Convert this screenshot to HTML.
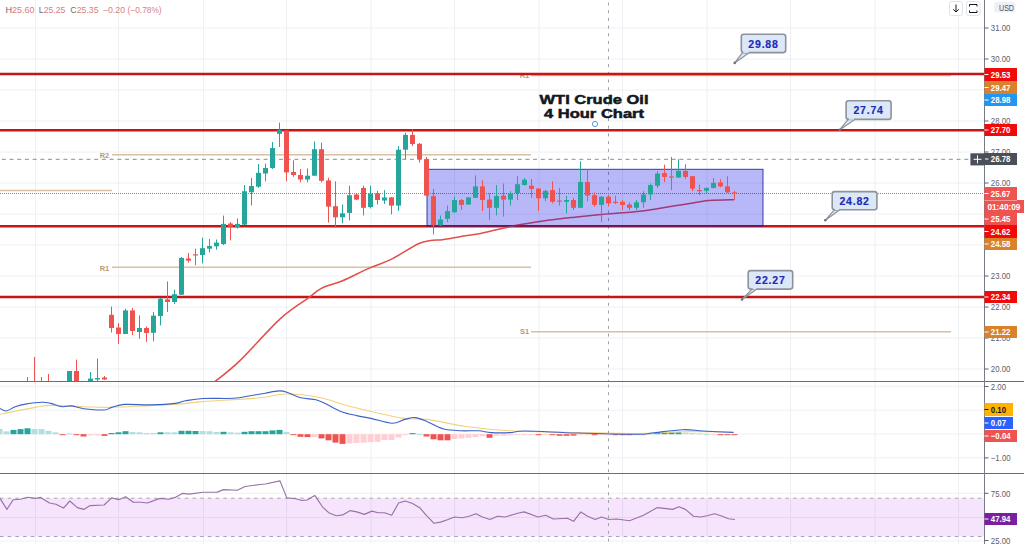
<!DOCTYPE html>
<html><head><meta charset="utf-8"><style>
html,body{margin:0;padding:0;background:#fff;width:1024px;height:544px;overflow:hidden}
svg{display:block;font-family:"Liberation Sans",sans-serif}
</style></head><body>
<svg width="1024" height="544" viewBox="0 0 1024 544">
<rect width="1024" height="544" fill="#ffffff"/>
<line x1="35.5" y1="0" x2="35.5" y2="544" stroke="#eef0f3" stroke-width="1"/>
<line x1="118.5" y1="0" x2="118.5" y2="544" stroke="#eef0f3" stroke-width="1"/>
<line x1="203.5" y1="0" x2="203.5" y2="544" stroke="#eef0f3" stroke-width="1"/>
<line x1="286.5" y1="0" x2="286.5" y2="544" stroke="#eef0f3" stroke-width="1"/>
<line x1="371" y1="0" x2="371" y2="544" stroke="#eef0f3" stroke-width="1"/>
<line x1="454.5" y1="0" x2="454.5" y2="544" stroke="#eef0f3" stroke-width="1"/>
<line x1="539" y1="0" x2="539" y2="544" stroke="#eef0f3" stroke-width="1"/>
<line x1="622.5" y1="0" x2="622.5" y2="544" stroke="#eef0f3" stroke-width="1"/>
<line x1="707" y1="0" x2="707" y2="544" stroke="#eef0f3" stroke-width="1"/>
<line x1="790.5" y1="0" x2="790.5" y2="544" stroke="#eef0f3" stroke-width="1"/>
<line x1="875" y1="0" x2="875" y2="544" stroke="#eef0f3" stroke-width="1"/>
<line x1="958.5" y1="0" x2="958.5" y2="544" stroke="#eef0f3" stroke-width="1"/>
<line x1="0" y1="28" x2="984.5" y2="28" stroke="#eef0f3" stroke-width="1"/>
<line x1="0" y1="59" x2="984.5" y2="59" stroke="#eef0f3" stroke-width="1"/>
<line x1="0" y1="90" x2="984.5" y2="90" stroke="#eef0f3" stroke-width="1"/>
<line x1="0" y1="121" x2="984.5" y2="121" stroke="#eef0f3" stroke-width="1"/>
<line x1="0" y1="152" x2="984.5" y2="152" stroke="#eef0f3" stroke-width="1"/>
<line x1="0" y1="183" x2="984.5" y2="183" stroke="#eef0f3" stroke-width="1"/>
<line x1="0" y1="214" x2="984.5" y2="214" stroke="#eef0f3" stroke-width="1"/>
<line x1="0" y1="245" x2="984.5" y2="245" stroke="#eef0f3" stroke-width="1"/>
<line x1="0" y1="276" x2="984.5" y2="276" stroke="#eef0f3" stroke-width="1"/>
<line x1="0" y1="307" x2="984.5" y2="307" stroke="#eef0f3" stroke-width="1"/>
<line x1="0" y1="338" x2="984.5" y2="338" stroke="#eef0f3" stroke-width="1"/>
<line x1="0" y1="369" x2="984.5" y2="369" stroke="#eef0f3" stroke-width="1"/>
<line x1="0" y1="386.3" x2="984.5" y2="386.3" stroke="#eef0f3" stroke-width="1"/>
<line x1="0" y1="410.2" x2="984.5" y2="410.2" stroke="#eef0f3" stroke-width="1"/>
<line x1="0" y1="434.0" x2="984.5" y2="434.0" stroke="#eef0f3" stroke-width="1"/>
<line x1="0" y1="457.8" x2="984.5" y2="457.8" stroke="#eef0f3" stroke-width="1"/>
<line x1="0" y1="493.3" x2="984.5" y2="493.3" stroke="#eef0f3" stroke-width="1"/>
<line x1="0" y1="517.5" x2="984.5" y2="517.5" stroke="#eef0f3" stroke-width="1"/>
<line x1="0" y1="541" x2="984.5" y2="541" stroke="#eef0f3" stroke-width="1"/>
<defs><clipPath id="main"><rect x="0" y="0" width="985" height="381"/></clipPath><clipPath id="macd"><rect x="0" y="382" width="985" height="91"/></clipPath><clipPath id="rsi"><rect x="0" y="474" width="985" height="70"/></clipPath></defs>
<g clip-path="url(#main)">
<line x1="0" y1="190.5" x2="112" y2="190.5" stroke="#d8c0a2" stroke-width="1.5"/>
<line x1="112" y1="154.7" x2="531" y2="154.7" stroke="#d8c0a2" stroke-width="1.5"/>
<line x1="112" y1="267.3" x2="531" y2="267.3" stroke="#d8c0a2" stroke-width="1.5"/>
<line x1="531" y1="75.5" x2="951" y2="75.5" stroke="#d8c0a2" stroke-width="1.5"/>
<line x1="531" y1="331.8" x2="951" y2="331.8" stroke="#d8c0a2" stroke-width="1.5"/>
<text x="104.5" y="158" font-size="7.5" fill="#b89a72" font-weight="bold" text-anchor="middle">R2</text>
<text x="104.5" y="270.5" font-size="7.5" fill="#b89a72" font-weight="bold" text-anchor="middle">R1</text>
<text x="524.5" y="78" font-size="7.5" fill="#b89a72" font-weight="bold" text-anchor="middle">R1</text>
<text x="524.5" y="334" font-size="7.5" fill="#b89a72" font-weight="bold" text-anchor="middle">S1</text>
<line x1="0" y1="193.5" x2="984.5" y2="193.5" stroke="#a87878" stroke-width="1" stroke-dasharray="1,1"/>
<line x1="0" y1="159.3" x2="984.5" y2="159.3" stroke="#8a8d96" stroke-width="1" stroke-dasharray="4,3.7" stroke-dashoffset="5.9"/>
<line x1="608.5" y1="0" x2="608.5" y2="381" stroke="#9ea2aa" stroke-width="1" stroke-dasharray="3,4.7" stroke-dashoffset="5.2"/>
<line x1="0" y1="74" x2="984.5" y2="74" stroke="#c81414" stroke-width="2.6"/>
<line x1="0" y1="130.3" x2="984.5" y2="130.3" stroke="#c81414" stroke-width="2.6"/>
<line x1="0" y1="226.2" x2="984.5" y2="226.2" stroke="#c81414" stroke-width="2.6"/>
<line x1="0" y1="297" x2="984.5" y2="297" stroke="#c81414" stroke-width="2.6"/>
<path d="M215.2,381.4 C219.2,378.0 228.5,371.6 239.4,361.1 C250.3,350.6 268.8,329.2 280.4,318.6 C292.0,308.0 302.4,302.4 309.2,297.4 C316.0,292.3 315.8,291.1 321.4,288.3 C327.0,285.5 334.5,284.1 342.6,280.7 C350.7,277.3 361.8,271.4 369.9,267.9 C378.0,264.3 383.0,263.4 391.1,259.4 C399.2,255.4 411.8,246.8 418.4,243.7 C425.0,240.6 426.6,241.3 430.6,240.6 C434.7,239.9 437.8,240.3 442.7,239.7 C447.6,239.0 453.7,237.8 460.0,236.7 C466.3,235.6 471.4,235.2 480.6,233.4 C489.8,231.6 504.6,227.7 515.0,225.6 C525.4,223.5 533.1,222.4 543.0,221.0 C552.9,219.6 565.6,218.2 574.4,217.2 C583.2,216.2 585.6,215.9 596.0,215.0 C606.4,214.1 626.5,212.7 637.0,211.6 C647.5,210.5 651.0,209.6 658.8,208.4 C666.6,207.2 675.5,205.7 683.8,204.4 C692.1,203.1 700.5,201.4 708.8,200.6 C717.1,199.8 729.6,199.8 733.8,199.7" fill="none" stroke="#e0504a" stroke-width="1.5"/>
<rect x="427" y="169.3" width="336" height="56.7" fill="rgba(0,0,235,0.28)" stroke="rgba(30,30,150,0.85)" stroke-width="1"/>
<line x1="111.5" y1="306.5" x2="111.5" y2="332.5" stroke="#ef5350" stroke-width="1"/>
<rect x="109.0" y="314.8" width="5" height="13.2" fill="#ef5350"/>
<line x1="118.5" y1="323.0" x2="118.5" y2="344.0" stroke="#ef5350" stroke-width="1"/>
<rect x="116.0" y="327.5" width="5" height="6.5" fill="#ef5350"/>
<line x1="125.5" y1="308.8" x2="125.5" y2="334.0" stroke="#26a69a" stroke-width="1"/>
<rect x="123.0" y="310.4" width="5" height="23.6" fill="#26a69a"/>
<line x1="132.5" y1="308.0" x2="132.5" y2="335.0" stroke="#ef5350" stroke-width="1"/>
<rect x="130.0" y="310.4" width="5" height="20.6" fill="#ef5350"/>
<line x1="139.5" y1="315.4" x2="139.5" y2="338.6" stroke="#26a69a" stroke-width="1"/>
<rect x="137.0" y="328.0" width="5" height="4.0" fill="#26a69a"/>
<line x1="146.5" y1="326.4" x2="146.5" y2="341.9" stroke="#ef5350" stroke-width="1"/>
<rect x="144.0" y="328.0" width="5" height="5.0" fill="#ef5350"/>
<line x1="153.5" y1="312.0" x2="153.5" y2="341.3" stroke="#26a69a" stroke-width="1"/>
<rect x="151.0" y="315.6" width="5" height="17.2" fill="#26a69a"/>
<line x1="160.5" y1="298.0" x2="160.5" y2="325.3" stroke="#26a69a" stroke-width="1"/>
<rect x="158.0" y="298.8" width="5" height="17.2" fill="#26a69a"/>
<line x1="167.5" y1="281.5" x2="167.5" y2="312.0" stroke="#ef5350" stroke-width="1"/>
<rect x="165.0" y="299.4" width="5" height="2.6" fill="#ef5350"/>
<line x1="174.5" y1="289.5" x2="174.5" y2="304.0" stroke="#26a69a" stroke-width="1"/>
<rect x="172.0" y="294.2" width="5" height="7.8" fill="#26a69a"/>
<line x1="181.5" y1="257.0" x2="181.5" y2="295.0" stroke="#26a69a" stroke-width="1"/>
<rect x="179.0" y="257.9" width="5" height="36.8" fill="#26a69a"/>
<line x1="188.5" y1="253.0" x2="188.5" y2="262.5" stroke="#ef5350" stroke-width="1"/>
<rect x="186.0" y="258.5" width="5" height="2.2" fill="#ef5350"/>
<line x1="195.5" y1="248.7" x2="195.5" y2="265.3" stroke="#ef5350" stroke-width="1"/>
<rect x="193.0" y="254.3" width="5" height="1.2" fill="#ef5350"/>
<line x1="202.5" y1="237.7" x2="202.5" y2="263.4" stroke="#26a69a" stroke-width="1"/>
<rect x="200.0" y="248.2" width="5" height="6.8" fill="#26a69a"/>
<line x1="209.5" y1="239.0" x2="209.5" y2="252.4" stroke="#26a69a" stroke-width="1"/>
<rect x="207.0" y="246.0" width="5" height="2.7" fill="#26a69a"/>
<line x1="216.5" y1="239.5" x2="216.5" y2="249.6" stroke="#26a69a" stroke-width="1"/>
<rect x="214.0" y="242.6" width="5" height="3.7" fill="#26a69a"/>
<line x1="223.5" y1="215.6" x2="223.5" y2="245.0" stroke="#26a69a" stroke-width="1"/>
<rect x="221.0" y="223.9" width="5" height="20.2" fill="#26a69a"/>
<line x1="230.5" y1="222.0" x2="230.5" y2="240.4" stroke="#ef5350" stroke-width="1"/>
<rect x="228.0" y="223.5" width="5" height="3.2" fill="#ef5350"/>
<line x1="237.5" y1="218.4" x2="237.5" y2="228.5" stroke="#26a69a" stroke-width="1"/>
<rect x="235.0" y="223.9" width="5" height="3.3" fill="#26a69a"/>
<line x1="244.5" y1="185.2" x2="244.5" y2="225.0" stroke="#26a69a" stroke-width="1"/>
<rect x="242.0" y="191.2" width="5" height="33.5" fill="#26a69a"/>
<line x1="251.5" y1="177.9" x2="251.5" y2="205.5" stroke="#26a69a" stroke-width="1"/>
<rect x="249.0" y="186.0" width="5" height="6.3" fill="#26a69a"/>
<line x1="258.5" y1="164.0" x2="258.5" y2="187.8" stroke="#26a69a" stroke-width="1"/>
<rect x="256.0" y="172.8" width="5" height="13.9" fill="#26a69a"/>
<line x1="265.5" y1="163.6" x2="265.5" y2="181.2" stroke="#26a69a" stroke-width="1"/>
<rect x="263.0" y="168.0" width="5" height="5.5" fill="#26a69a"/>
<line x1="272.5" y1="142.0" x2="272.5" y2="169.0" stroke="#26a69a" stroke-width="1"/>
<rect x="270.0" y="148.1" width="5" height="19.9" fill="#26a69a"/>
<line x1="279.5" y1="122.7" x2="279.5" y2="147.0" stroke="#26a69a" stroke-width="1"/>
<rect x="277.0" y="130.0" width="5" height="3.8" fill="#26a69a"/>
<line x1="286.5" y1="130.0" x2="286.5" y2="181.2" stroke="#ef5350" stroke-width="1"/>
<rect x="284.0" y="130.5" width="5" height="41.9" fill="#ef5350"/>
<line x1="293.5" y1="160.3" x2="293.5" y2="176.8" stroke="#ef5350" stroke-width="1"/>
<rect x="291.0" y="172.0" width="5" height="3.0" fill="#ef5350"/>
<line x1="300.5" y1="169.0" x2="300.5" y2="182.3" stroke="#ef5350" stroke-width="1"/>
<rect x="298.0" y="175.0" width="5" height="4.5" fill="#ef5350"/>
<line x1="307.5" y1="168.4" x2="307.5" y2="182.3" stroke="#26a69a" stroke-width="1"/>
<rect x="305.0" y="175.7" width="5" height="3.8" fill="#26a69a"/>
<line x1="314.5" y1="141.5" x2="314.5" y2="176.0" stroke="#26a69a" stroke-width="1"/>
<rect x="312.0" y="149.2" width="5" height="26.5" fill="#26a69a"/>
<line x1="321.5" y1="142.6" x2="321.5" y2="182.3" stroke="#ef5350" stroke-width="1"/>
<rect x="319.0" y="149.2" width="5" height="31.6" fill="#ef5350"/>
<line x1="328.5" y1="177.7" x2="328.5" y2="222.5" stroke="#ef5350" stroke-width="1"/>
<rect x="326.0" y="180.4" width="5" height="26.2" fill="#ef5350"/>
<line x1="335.5" y1="181.3" x2="335.5" y2="227.6" stroke="#ef5350" stroke-width="1"/>
<rect x="333.0" y="206.2" width="5" height="11.1" fill="#ef5350"/>
<line x1="342.5" y1="204.5" x2="342.5" y2="223.2" stroke="#26a69a" stroke-width="1"/>
<rect x="340.0" y="213.3" width="5" height="4.0" fill="#26a69a"/>
<line x1="349.5" y1="185.7" x2="349.5" y2="220.4" stroke="#26a69a" stroke-width="1"/>
<rect x="347.0" y="195.2" width="5" height="17.7" fill="#26a69a"/>
<line x1="356.5" y1="193.0" x2="356.5" y2="200.0" stroke="#ef5350" stroke-width="1"/>
<rect x="354.0" y="194.5" width="5" height="5.1" fill="#ef5350"/>
<line x1="363.5" y1="185.7" x2="363.5" y2="215.5" stroke="#ef5350" stroke-width="1"/>
<rect x="361.0" y="187.9" width="5" height="19.9" fill="#ef5350"/>
<line x1="370.5" y1="185.7" x2="370.5" y2="208.4" stroke="#26a69a" stroke-width="1"/>
<rect x="368.0" y="193.4" width="5" height="13.7" fill="#26a69a"/>
<line x1="377.5" y1="190.8" x2="377.5" y2="204.5" stroke="#ef5350" stroke-width="1"/>
<rect x="375.0" y="193.4" width="5" height="6.6" fill="#ef5350"/>
<line x1="384.5" y1="190.1" x2="384.5" y2="204.0" stroke="#26a69a" stroke-width="1"/>
<rect x="382.0" y="197.4" width="5" height="3.1" fill="#26a69a"/>
<line x1="391.5" y1="197.0" x2="391.5" y2="214.4" stroke="#ef5350" stroke-width="1"/>
<rect x="389.0" y="197.4" width="5" height="8.2" fill="#ef5350"/>
<line x1="398.5" y1="146.0" x2="398.5" y2="211.0" stroke="#26a69a" stroke-width="1"/>
<rect x="396.0" y="149.7" width="5" height="55.9" fill="#26a69a"/>
<line x1="405.5" y1="132.7" x2="405.5" y2="159.2" stroke="#26a69a" stroke-width="1"/>
<rect x="403.0" y="134.9" width="5" height="14.8" fill="#26a69a"/>
<line x1="412.5" y1="129.0" x2="412.5" y2="146.0" stroke="#ef5350" stroke-width="1"/>
<rect x="410.0" y="134.9" width="5" height="9.1" fill="#ef5350"/>
<line x1="419.5" y1="143.0" x2="419.5" y2="162.5" stroke="#ef5350" stroke-width="1"/>
<rect x="417.0" y="143.8" width="5" height="15.4" fill="#ef5350"/>
<line x1="426.5" y1="157.0" x2="426.5" y2="196.0" stroke="#ef5350" stroke-width="1"/>
<rect x="424.0" y="159.2" width="5" height="36.4" fill="#ef5350"/>
<line x1="433.5" y1="189.0" x2="433.5" y2="234.3" stroke="#ef5350" stroke-width="1"/>
<rect x="431.0" y="196.1" width="5" height="29.3" fill="#ef5350"/>
<line x1="440.5" y1="215.5" x2="440.5" y2="226.0" stroke="#26a69a" stroke-width="1"/>
<rect x="438.0" y="219.5" width="5" height="5.9" fill="#26a69a"/>
<line x1="447.5" y1="205.6" x2="447.5" y2="222.0" stroke="#26a69a" stroke-width="1"/>
<rect x="445.0" y="211.1" width="5" height="7.7" fill="#26a69a"/>
<line x1="454.5" y1="196.7" x2="454.5" y2="213.0" stroke="#26a69a" stroke-width="1"/>
<rect x="452.0" y="200.0" width="5" height="12.2" fill="#26a69a"/>
<line x1="461.5" y1="199.0" x2="461.5" y2="210.0" stroke="#ef5350" stroke-width="1"/>
<rect x="459.0" y="200.0" width="5" height="4.9" fill="#ef5350"/>
<line x1="468.5" y1="197.0" x2="468.5" y2="205.0" stroke="#26a69a" stroke-width="1"/>
<rect x="466.0" y="197.4" width="5" height="7.1" fill="#26a69a"/>
<line x1="475.5" y1="175.3" x2="475.5" y2="198.0" stroke="#26a69a" stroke-width="1"/>
<rect x="473.0" y="186.4" width="5" height="11.4" fill="#26a69a"/>
<line x1="482.5" y1="180.2" x2="482.5" y2="211.1" stroke="#ef5350" stroke-width="1"/>
<rect x="480.0" y="186.4" width="5" height="13.6" fill="#ef5350"/>
<line x1="489.5" y1="193.4" x2="489.5" y2="220.0" stroke="#ef5350" stroke-width="1"/>
<rect x="487.0" y="199.6" width="5" height="8.2" fill="#ef5350"/>
<line x1="496.5" y1="185.0" x2="496.5" y2="215.5" stroke="#26a69a" stroke-width="1"/>
<rect x="494.0" y="196.1" width="5" height="11.7" fill="#26a69a"/>
<line x1="503.5" y1="183.5" x2="503.5" y2="216.6" stroke="#ef5350" stroke-width="1"/>
<rect x="501.0" y="195.6" width="5" height="4.0" fill="#ef5350"/>
<line x1="510.5" y1="191.2" x2="510.5" y2="205.6" stroke="#26a69a" stroke-width="1"/>
<rect x="508.0" y="193.4" width="5" height="6.2" fill="#26a69a"/>
<line x1="517.5" y1="176.2" x2="517.5" y2="200.0" stroke="#26a69a" stroke-width="1"/>
<rect x="515.0" y="184.2" width="5" height="8.8" fill="#26a69a"/>
<line x1="524.5" y1="178.0" x2="524.5" y2="185.5" stroke="#26a69a" stroke-width="1"/>
<rect x="522.0" y="179.7" width="5" height="5.3" fill="#26a69a"/>
<line x1="531.5" y1="179.0" x2="531.5" y2="197.8" stroke="#ef5350" stroke-width="1"/>
<rect x="529.0" y="185.7" width="5" height="3.3" fill="#ef5350"/>
<line x1="538.5" y1="188.0" x2="538.5" y2="211.0" stroke="#ef5350" stroke-width="1"/>
<rect x="536.0" y="188.6" width="5" height="9.7" fill="#ef5350"/>
<line x1="545.5" y1="190.0" x2="545.5" y2="201.2" stroke="#26a69a" stroke-width="1"/>
<rect x="543.0" y="190.8" width="5" height="7.5" fill="#26a69a"/>
<line x1="552.5" y1="181.3" x2="552.5" y2="203.4" stroke="#ef5350" stroke-width="1"/>
<rect x="550.0" y="190.1" width="5" height="11.7" fill="#ef5350"/>
<line x1="559.5" y1="187.9" x2="559.5" y2="205.6" stroke="#ef5350" stroke-width="1"/>
<rect x="557.0" y="200.5" width="5" height="1.2" fill="#ef5350"/>
<line x1="566.5" y1="196.0" x2="566.5" y2="213.3" stroke="#26a69a" stroke-width="1"/>
<rect x="564.0" y="200.0" width="5" height="1.8" fill="#26a69a"/>
<line x1="573.5" y1="197.8" x2="573.5" y2="210.0" stroke="#ef5350" stroke-width="1"/>
<rect x="571.0" y="200.0" width="5" height="7.8" fill="#ef5350"/>
<line x1="580.5" y1="161.4" x2="580.5" y2="208.0" stroke="#26a69a" stroke-width="1"/>
<rect x="578.0" y="182.0" width="5" height="25.8" fill="#26a69a"/>
<line x1="587.5" y1="169.2" x2="587.5" y2="201.2" stroke="#ef5350" stroke-width="1"/>
<rect x="585.0" y="182.0" width="5" height="13.6" fill="#ef5350"/>
<line x1="594.5" y1="192.3" x2="594.5" y2="206.7" stroke="#ef5350" stroke-width="1"/>
<rect x="592.0" y="195.2" width="5" height="9.7" fill="#ef5350"/>
<line x1="601.5" y1="196.0" x2="601.5" y2="222.1" stroke="#26a69a" stroke-width="1"/>
<rect x="599.0" y="196.7" width="5" height="8.2" fill="#26a69a"/>
<line x1="608.5" y1="196.0" x2="608.5" y2="206.7" stroke="#ef5350" stroke-width="1"/>
<rect x="606.0" y="196.7" width="5" height="6.7" fill="#ef5350"/>
<line x1="615.5" y1="195.6" x2="615.5" y2="204.0" stroke="#ef5350" stroke-width="1"/>
<rect x="613.0" y="201.8" width="5" height="1.2" fill="#ef5350"/>
<line x1="622.5" y1="200.0" x2="622.5" y2="210.0" stroke="#ef5350" stroke-width="1"/>
<rect x="620.0" y="201.8" width="5" height="3.1" fill="#ef5350"/>
<line x1="629.5" y1="202.3" x2="629.5" y2="210.0" stroke="#ef5350" stroke-width="1"/>
<rect x="627.0" y="204.5" width="5" height="3.3" fill="#ef5350"/>
<line x1="636.5" y1="200.0" x2="636.5" y2="210.0" stroke="#26a69a" stroke-width="1"/>
<rect x="634.0" y="202.3" width="5" height="5.5" fill="#26a69a"/>
<line x1="643.5" y1="191.2" x2="643.5" y2="207.8" stroke="#26a69a" stroke-width="1"/>
<rect x="641.0" y="194.5" width="5" height="7.8" fill="#26a69a"/>
<line x1="650.5" y1="183.5" x2="650.5" y2="200.0" stroke="#26a69a" stroke-width="1"/>
<rect x="648.0" y="185.0" width="5" height="9.5" fill="#26a69a"/>
<line x1="657.5" y1="171.4" x2="657.5" y2="187.9" stroke="#26a69a" stroke-width="1"/>
<rect x="655.0" y="173.6" width="5" height="12.1" fill="#26a69a"/>
<line x1="664.5" y1="164.7" x2="664.5" y2="182.0" stroke="#ef5350" stroke-width="1"/>
<rect x="662.0" y="173.1" width="5" height="3.8" fill="#ef5350"/>
<line x1="671.5" y1="157.0" x2="671.5" y2="190.1" stroke="#ef5350" stroke-width="1"/>
<rect x="669.0" y="176.4" width="5" height="1.2" fill="#ef5350"/>
<line x1="678.5" y1="159.2" x2="678.5" y2="178.0" stroke="#26a69a" stroke-width="1"/>
<rect x="676.0" y="170.9" width="5" height="6.6" fill="#26a69a"/>
<line x1="685.5" y1="164.3" x2="685.5" y2="179.0" stroke="#ef5350" stroke-width="1"/>
<rect x="683.0" y="170.9" width="5" height="6.0" fill="#ef5350"/>
<line x1="692.5" y1="176.0" x2="692.5" y2="191.2" stroke="#ef5350" stroke-width="1"/>
<rect x="690.0" y="176.2" width="5" height="12.4" fill="#ef5350"/>
<line x1="699.5" y1="184.6" x2="699.5" y2="195.2" stroke="#ef5350" stroke-width="1"/>
<rect x="697.0" y="190.0" width="5" height="1.2" fill="#ef5350"/>
<line x1="706.5" y1="187.5" x2="706.5" y2="193.4" stroke="#26a69a" stroke-width="1"/>
<rect x="704.0" y="187.9" width="5" height="2.9" fill="#26a69a"/>
<line x1="713.5" y1="178.0" x2="713.5" y2="188.5" stroke="#26a69a" stroke-width="1"/>
<rect x="711.0" y="182.8" width="5" height="5.1" fill="#26a69a"/>
<line x1="720.5" y1="179.1" x2="720.5" y2="187.3" stroke="#ef5350" stroke-width="1"/>
<rect x="718.0" y="182.4" width="5" height="4.0" fill="#ef5350"/>
<line x1="727.5" y1="176.2" x2="727.5" y2="193.0" stroke="#ef5350" stroke-width="1"/>
<rect x="725.0" y="186.4" width="5" height="5.9" fill="#ef5350"/>
<line x1="734.5" y1="190.8" x2="734.5" y2="200.0" stroke="#ef5350" stroke-width="1"/>
<rect x="732.0" y="192.3" width="5" height="1.2" fill="#ef5350"/>
<line x1="27.5" y1="377.0" x2="27.5" y2="381.0" stroke="#ef5350" stroke-width="1"/>
<rect x="25.0" y="381.0" width="5" height="1.2" fill="#ef5350"/>
<line x1="34.5" y1="357.0" x2="34.5" y2="381.0" stroke="#ef5350" stroke-width="1"/>
<rect x="32.0" y="381.0" width="5" height="1.2" fill="#ef5350"/>
<line x1="41.5" y1="377.0" x2="41.5" y2="381.0" stroke="#26a69a" stroke-width="1"/>
<rect x="39.0" y="381.0" width="5" height="1.2" fill="#26a69a"/>
<line x1="48.5" y1="374.0" x2="48.5" y2="381.0" stroke="#ef5350" stroke-width="1"/>
<rect x="46.0" y="381.0" width="5" height="1.2" fill="#ef5350"/>
<line x1="69.5" y1="371.0" x2="69.5" y2="381.0" stroke="#26a69a" stroke-width="1"/>
<rect x="67.0" y="371.0" width="5" height="10.0" fill="#26a69a"/>
<line x1="76.5" y1="359.6" x2="76.5" y2="381.0" stroke="#ef5350" stroke-width="1"/>
<rect x="74.0" y="371.0" width="5" height="10.0" fill="#ef5350"/>
<line x1="90.5" y1="372.0" x2="90.5" y2="381.0" stroke="#26a69a" stroke-width="1"/>
<rect x="88.0" y="378.6" width="5" height="2.4" fill="#26a69a"/>
<line x1="97.5" y1="358.5" x2="97.5" y2="381.0" stroke="#26a69a" stroke-width="1"/>
<rect x="95.0" y="378.0" width="5" height="1.5" fill="#26a69a"/>
<line x1="104.5" y1="376.0" x2="104.5" y2="380.0" stroke="#ef5350" stroke-width="1"/>
<rect x="102.0" y="377.5" width="5" height="2.0" fill="#ef5350"/>
</g>
<path d="M742.5,52.6 L734.7,62.9 L749.4,52.6 Z" fill="#dce8f8" stroke="#8c939c" stroke-width="1.2" stroke-linejoin="round"/>
<rect x="741.3" y="34.2" width="44.40000000000009" height="18.4" rx="2.5" fill="#dce8f8" stroke="#8c939c" stroke-width="1.6"/>
<line x1="743.3" y1="52.1" x2="748.6" y2="52.1" stroke="#dce8f8" stroke-width="1.6"/>
<circle cx="734.7" cy="62.9" r="1.3" fill="#6d737b"/>
<text x="763.5" y="47.6" font-size="10.5" font-weight="bold" fill="#1e2cb8" stroke="#1e2cb8" stroke-width="0.2" text-anchor="middle" letter-spacing="0.8">29.88</text>
<path d="M848.2,119.4 L839.8,129.7 L854.8,119.4 Z" fill="#dce8f8" stroke="#8c939c" stroke-width="1.2" stroke-linejoin="round"/>
<rect x="846.1" y="100.8" width="45.0" height="18.60000000000001" rx="2.5" fill="#dce8f8" stroke="#8c939c" stroke-width="1.6"/>
<line x1="849.0" y1="118.9" x2="854.0" y2="118.9" stroke="#dce8f8" stroke-width="1.6"/>
<circle cx="839.8" cy="129.7" r="1.3" fill="#6d737b"/>
<text x="868.6" y="114.4" font-size="10.5" font-weight="bold" fill="#1e2cb8" stroke="#1e2cb8" stroke-width="0.2" text-anchor="middle" letter-spacing="0.8">27.74</text>
<path d="M834.4,209.8 L825.3,220.2 L839.8,209.8 Z" fill="#dce8f8" stroke="#8c939c" stroke-width="1.2" stroke-linejoin="round"/>
<rect x="832.2" y="191.6" width="44.69999999999993" height="18.200000000000017" rx="2.5" fill="#dce8f8" stroke="#8c939c" stroke-width="1.6"/>
<line x1="835.1999999999999" y1="209.3" x2="839.0" y2="209.3" stroke="#dce8f8" stroke-width="1.6"/>
<circle cx="825.3" cy="220.2" r="1.3" fill="#6d737b"/>
<text x="854.55" y="204.8" font-size="10.5" font-weight="bold" fill="#1e2cb8" stroke="#1e2cb8" stroke-width="0.2" text-anchor="middle" letter-spacing="0.8">24.82</text>
<path d="M752,289.1 L742,299.5 L756.9,289.1 Z" fill="#dce8f8" stroke="#8c939c" stroke-width="1.2" stroke-linejoin="round"/>
<rect x="748.2" y="270.6" width="44.5" height="18.5" rx="2.5" fill="#dce8f8" stroke="#8c939c" stroke-width="1.6"/>
<line x1="752.8" y1="288.6" x2="756.1" y2="288.6" stroke="#dce8f8" stroke-width="1.6"/>
<circle cx="742" cy="299.5" r="1.3" fill="#6d737b"/>
<text x="770.45" y="284.1" font-size="10.5" font-weight="bold" fill="#1e2cb8" stroke="#1e2cb8" stroke-width="0.2" text-anchor="middle" letter-spacing="0.8">22.27</text>
<text x="539.5" y="103.8" font-size="12.8" font-weight="bold" fill="#131722" stroke="#131722" stroke-width="0.5" textLength="109" lengthAdjust="spacingAndGlyphs">WTI Crude Oil</text>
<text x="544" y="118.2" font-size="12.8" font-weight="bold" fill="#131722" stroke="#131722" stroke-width="0.5" textLength="100" lengthAdjust="spacingAndGlyphs">4 Hour Chart</text>
<circle cx="595" cy="124" r="2.6" fill="none" stroke="#5b9bd5" stroke-width="1"/>
<g clip-path="url(#macd)">
<rect x="-3.5" y="428.9" width="6" height="5.3" fill="#b2dfdb"/>
<rect x="3.5" y="431.4" width="6" height="2.8" fill="#b2dfdb"/>
<rect x="10.5" y="429.9" width="6" height="4.3" fill="#26a69a"/>
<rect x="17.5" y="429.1" width="6" height="5.1" fill="#26a69a"/>
<rect x="24.5" y="428.3" width="6" height="5.9" fill="#26a69a"/>
<rect x="31.5" y="429.1" width="6" height="5.1" fill="#b2dfdb"/>
<rect x="38.5" y="429.1" width="6" height="5.1" fill="#b2dfdb"/>
<rect x="45.5" y="430.8" width="6" height="3.4" fill="#b2dfdb"/>
<rect x="52.5" y="432.3" width="6" height="1.9" fill="#b2dfdb"/>
<rect x="59.5" y="434.2" width="6" height="1.0" fill="#ef5350"/>
<rect x="66.5" y="433.5" width="6" height="1.0" fill="#b2dfdb"/>
<rect x="73.5" y="434.2" width="6" height="1.0" fill="#ef5350"/>
<rect x="80.5" y="434.2" width="6" height="2.3" fill="#ef5350"/>
<rect x="87.5" y="434.2" width="6" height="1.3" fill="#ffcdd2"/>
<rect x="94.5" y="434.2" width="6" height="1.3" fill="#ffcdd2"/>
<rect x="101.5" y="434.2" width="6" height="1.7" fill="#ef5350"/>
<rect x="108.5" y="433.0" width="6" height="1.2" fill="#26a69a"/>
<rect x="115.5" y="432.3" width="6" height="1.9" fill="#26a69a"/>
<rect x="122.5" y="431.2" width="6" height="3.0" fill="#26a69a"/>
<rect x="129.5" y="432.0" width="6" height="2.2" fill="#b2dfdb"/>
<rect x="136.5" y="432.3" width="6" height="1.9" fill="#b2dfdb"/>
<rect x="143.5" y="433.0" width="6" height="1.2" fill="#b2dfdb"/>
<rect x="150.5" y="433.0" width="6" height="1.2" fill="#b2dfdb"/>
<rect x="157.5" y="432.3" width="6" height="1.9" fill="#26a69a"/>
<rect x="164.5" y="432.3" width="6" height="1.9" fill="#b2dfdb"/>
<rect x="171.5" y="432.3" width="6" height="1.9" fill="#b2dfdb"/>
<rect x="178.5" y="430.8" width="6" height="3.4" fill="#26a69a"/>
<rect x="185.5" y="430.8" width="6" height="3.4" fill="#26a69a"/>
<rect x="192.5" y="431.0" width="6" height="3.2" fill="#26a69a"/>
<rect x="199.5" y="431.0" width="6" height="3.2" fill="#b2dfdb"/>
<rect x="206.5" y="431.2" width="6" height="3.0" fill="#b2dfdb"/>
<rect x="213.5" y="432.0" width="6" height="2.2" fill="#b2dfdb"/>
<rect x="220.5" y="431.8" width="6" height="2.4" fill="#26a69a"/>
<rect x="227.5" y="432.3" width="6" height="1.9" fill="#b2dfdb"/>
<rect x="234.5" y="432.7" width="6" height="1.5" fill="#b2dfdb"/>
<rect x="241.5" y="431.8" width="6" height="2.4" fill="#26a69a"/>
<rect x="248.5" y="431.2" width="6" height="3.0" fill="#26a69a"/>
<rect x="255.5" y="431.2" width="6" height="3.0" fill="#26a69a"/>
<rect x="262.5" y="431.2" width="6" height="3.0" fill="#26a69a"/>
<rect x="269.5" y="430.4" width="6" height="3.8" fill="#26a69a"/>
<rect x="276.5" y="429.9" width="6" height="4.3" fill="#26a69a"/>
<rect x="283.5" y="432.0" width="6" height="2.2" fill="#b2dfdb"/>
<rect x="290.5" y="434.2" width="6" height="1.0" fill="#ef5350"/>
<rect x="297.5" y="434.2" width="6" height="2.6" fill="#ef5350"/>
<rect x="304.5" y="434.2" width="6" height="2.9" fill="#ef5350"/>
<rect x="311.5" y="434.2" width="6" height="2.9" fill="#ffcdd2"/>
<rect x="318.5" y="434.2" width="6" height="4.2" fill="#ef5350"/>
<rect x="325.5" y="434.2" width="6" height="6.1" fill="#ef5350"/>
<rect x="332.5" y="434.2" width="6" height="8.4" fill="#ef5350"/>
<rect x="339.5" y="434.2" width="6" height="9.7" fill="#ef5350"/>
<rect x="346.5" y="434.2" width="6" height="9.3" fill="#ffcdd2"/>
<rect x="353.5" y="434.2" width="6" height="8.8" fill="#ffcdd2"/>
<rect x="360.5" y="434.2" width="6" height="8.4" fill="#ffcdd2"/>
<rect x="367.5" y="434.2" width="6" height="8.0" fill="#ffcdd2"/>
<rect x="374.5" y="434.2" width="6" height="7.6" fill="#ffcdd2"/>
<rect x="381.5" y="434.2" width="6" height="5.8" fill="#ffcdd2"/>
<rect x="388.5" y="434.2" width="6" height="5.8" fill="#ffcdd2"/>
<rect x="395.5" y="434.2" width="6" height="3.3" fill="#ffcdd2"/>
<rect x="402.5" y="434.2" width="6" height="1.0" fill="#ffcdd2"/>
<rect x="409.5" y="433.1" width="6" height="1.1" fill="#26a69a"/>
<rect x="416.5" y="433.8" width="6" height="1.0" fill="#b2dfdb"/>
<rect x="423.5" y="434.2" width="6" height="2.3" fill="#ef5350"/>
<rect x="430.5" y="434.2" width="6" height="5.1" fill="#ef5350"/>
<rect x="437.5" y="434.2" width="6" height="6.1" fill="#ef5350"/>
<rect x="444.5" y="434.2" width="6" height="6.1" fill="#ef5350"/>
<rect x="451.5" y="434.2" width="6" height="4.8" fill="#ffcdd2"/>
<rect x="458.5" y="434.2" width="6" height="4.2" fill="#ffcdd2"/>
<rect x="465.5" y="434.2" width="6" height="3.6" fill="#ffcdd2"/>
<rect x="472.5" y="434.2" width="6" height="2.9" fill="#ffcdd2"/>
<rect x="479.5" y="434.2" width="6" height="2.0" fill="#ffcdd2"/>
<rect x="486.5" y="434.2" width="6" height="3.6" fill="#ef5350"/>
<rect x="493.5" y="434.2" width="6" height="1.6" fill="#ffcdd2"/>
<rect x="500.5" y="434.2" width="6" height="1.6" fill="#ffcdd2"/>
<rect x="507.5" y="434.2" width="6" height="1.3" fill="#ffcdd2"/>
<rect x="514.5" y="434.2" width="6" height="1.0" fill="#ffcdd2"/>
<rect x="521.5" y="434.2" width="6" height="1.0" fill="#ffcdd2"/>
<rect x="528.5" y="434.2" width="6" height="1.0" fill="#ffcdd2"/>
<rect x="535.5" y="434.2" width="6" height="1.0" fill="#ef5350"/>
<rect x="542.5" y="434.2" width="6" height="1.0" fill="#ffcdd2"/>
<rect x="549.5" y="434.2" width="6" height="1.0" fill="#ef5350"/>
<rect x="556.5" y="434.2" width="6" height="1.6" fill="#ef5350"/>
<rect x="563.5" y="434.2" width="6" height="1.6" fill="#ef5350"/>
<rect x="570.5" y="434.2" width="6" height="1.4" fill="#ef5350"/>
<rect x="577.5" y="434.2" width="6" height="1.0" fill="#ffcdd2"/>
<rect x="584.5" y="434.2" width="6" height="1.0" fill="#ffcdd2"/>
<rect x="591.5" y="434.2" width="6" height="1.0" fill="#ef5350"/>
<rect x="598.5" y="434.2" width="6" height="1.0" fill="#ffcdd2"/>
<rect x="605.5" y="434.2" width="6" height="1.0" fill="#ffcdd2"/>
<rect x="612.5" y="434.2" width="6" height="1.0" fill="#ef5350"/>
<rect x="619.5" y="434.2" width="6" height="1.0" fill="#ef5350"/>
<rect x="626.5" y="434.2" width="6" height="1.0" fill="#ef5350"/>
<rect x="633.5" y="434.2" width="6" height="1.0" fill="#ffcdd2"/>
<rect x="640.5" y="434.2" width="6" height="1.0" fill="#ffcdd2"/>
<rect x="647.5" y="433.6" width="6" height="1.0" fill="#b2dfdb"/>
<rect x="654.5" y="433.0" width="6" height="1.2" fill="#26a69a"/>
<rect x="661.5" y="432.5" width="6" height="1.7" fill="#26a69a"/>
<rect x="668.5" y="432.3" width="6" height="1.9" fill="#26a69a"/>
<rect x="675.5" y="432.3" width="6" height="1.9" fill="#26a69a"/>
<rect x="682.5" y="432.6" width="6" height="1.6" fill="#b2dfdb"/>
<rect x="689.5" y="433.0" width="6" height="1.2" fill="#b2dfdb"/>
<rect x="696.5" y="433.4" width="6" height="1.0" fill="#b2dfdb"/>
<rect x="703.5" y="433.8" width="6" height="1.0" fill="#b2dfdb"/>
<rect x="710.5" y="434.2" width="6" height="1.0" fill="#ffcdd2"/>
<rect x="717.5" y="434.2" width="6" height="1.0" fill="#ef5350"/>
<rect x="724.5" y="434.2" width="6" height="1.0" fill="#ef5350"/>
<rect x="731.5" y="434.2" width="6" height="1.0" fill="#ef5350"/>
<path d="M0.0,414.3 C5.9,413.1 27.1,408.9 35.6,407.4 C44.1,405.9 42.8,405.5 50.8,405.4 C58.8,405.3 74.5,406.4 83.8,406.7 C93.1,407.0 99.5,407.4 106.7,407.4 C113.9,407.4 115.2,407.2 127.0,406.7 C138.8,406.1 165.1,405.0 177.8,404.1 C190.5,403.2 189.4,402.7 203.1,401.6 C216.8,400.6 246.2,399.1 260.0,397.8 C273.8,396.5 275.8,394.1 285.6,394.0 C295.4,393.9 307.6,395.2 318.6,397.3 C329.6,399.4 337.6,403.2 351.6,406.7 C365.6,410.2 389.7,416.0 402.4,418.1 C415.1,420.2 417.2,418.0 427.8,419.4 C438.4,420.8 452.1,424.6 465.8,426.5 C479.5,428.4 491.6,429.8 510.0,430.8 C528.4,431.8 554.8,432.1 576.0,432.5 C597.2,432.9 619.2,433.6 637.0,433.5 C654.8,433.4 666.7,432.0 682.8,431.7 C698.9,431.4 725.1,431.7 733.6,431.7" fill="none" stroke="#f2d27a" stroke-width="1.1"/>
<path d="M0.0,408.4 C1.1,408.8 3.8,411.3 6.3,411.0 C8.8,410.7 12.0,407.8 15.2,406.7 C18.4,405.6 20.9,404.8 25.4,404.1 C29.8,403.4 37.7,402.4 41.9,402.3 C46.1,402.2 47.4,402.7 50.8,403.4 C54.2,404.1 58.8,406.3 62.2,406.7 C65.6,407.1 67.5,405.6 71.1,405.9 C74.7,406.2 78.3,408.0 83.8,408.7 C89.3,409.4 99.4,410.2 104.1,410.0 C108.8,409.8 108.3,408.3 111.7,407.4 C115.1,406.5 117.6,404.8 124.4,404.4 C131.2,404.0 143.9,405.1 152.4,404.9 C160.9,404.7 169.7,404.1 175.2,403.4 C180.7,402.7 180.8,401.6 185.4,400.8 C190.1,400.0 195.1,398.9 203.1,398.5 C211.1,398.1 226.0,398.7 233.6,398.3 C241.2,397.9 243.6,396.9 248.9,396.0 C254.2,395.1 260.1,394.1 265.2,393.2 C270.2,392.3 275.4,391.0 279.2,390.9 C283.0,390.8 284.5,391.5 288.1,392.7 C291.7,393.9 296.2,396.6 300.8,397.8 C305.4,399.0 311.8,398.8 316.0,399.8 C320.2,400.9 322.0,402.1 326.2,404.1 C330.4,406.1 336.3,409.8 341.4,411.7 C346.5,413.6 351.6,414.5 356.7,415.6 C361.8,416.8 366.0,417.3 371.9,418.6 C377.8,419.9 386.7,423.1 392.2,423.2 C397.7,423.3 401.1,420.3 404.9,419.4 C408.7,418.5 411.3,417.2 415.1,417.6 C418.9,418.0 423.2,420.0 427.8,421.9 C432.4,423.8 437.5,427.3 443.0,428.8 C448.5,430.3 454.9,430.5 460.8,430.8 C466.7,431.1 473.4,430.5 478.5,430.8 C483.6,431.1 485.9,432.3 491.2,432.6 C496.4,432.9 504.3,432.9 510.0,432.6 C515.7,432.3 514.4,430.9 525.4,431.0 C536.4,431.1 557.6,432.4 576.2,433.0 C594.8,433.6 624.4,434.3 637.1,434.3 C649.8,434.3 644.8,433.8 652.4,433.0 C660.0,432.2 674.3,430.0 682.8,429.7 C691.2,429.4 694.6,430.5 703.1,431.0 C711.6,431.5 728.5,432.2 733.6,432.5" fill="none" stroke="#3b62c8" stroke-width="1.1"/>
</g>
<rect x="0" y="498.2" width="984" height="38.3" fill="rgba(170,30,230,0.12)"/>
<line x1="0" y1="498.2" x2="984.5" y2="498.2" stroke="#aaa2b2" stroke-width="1" stroke-dasharray="3.5,4.2"/>
<line x1="0" y1="536.5" x2="984.5" y2="536.5" stroke="#aaa2b2" stroke-width="1" stroke-dasharray="3.5,4.2"/>
<polyline points="0.0,498.4 6.9,509.4 13.2,499.7 20.3,499.2 27.9,497.2 35.6,498.4 40.6,497.4 49.5,503.0 55.9,504.3 63.5,508.1 69.8,501.0 77.4,507.6 83.8,509.4 90.1,505.6 104.1,505.0 111.7,497.9 118.8,499.7 125.7,496.7 133.3,502.2 140.9,502.2 147.3,503.0 160.0,498.4 168.9,499.2 175.2,497.4 182.3,493.4 189.2,494.1 203.1,492.3 217.1,492.1 223.5,489.6 237.4,490.3 245.0,486.5 260.0,484.5 265.2,484.0 280.0,480.9 286.8,497.9 295.7,498.7 302.0,500.5 307.1,500.0 314.8,495.4 322.4,506.8 328.7,512.7 336.3,515.7 342.7,514.9 350.3,510.6 356.7,511.9 364.3,514.4 371.9,511.1 378.2,512.7 384.6,512.7 391.7,515.2 398.6,503.0 405.4,501.0 412.5,503.5 420.1,508.1 426.5,515.7 434.1,523.3 440.5,522.1 448.1,519.5 454.4,517.0 462.0,517.7 468.4,516.5 476.0,513.7 482.4,517.0 490.0,519.5 497.6,516.2 505.0,517.0 517.8,513.2 524.1,511.9 538.1,517.0 545.7,515.2 553.3,519.0 567.3,518.2 573.6,521.3 580.8,511.9 587.6,516.2 595.2,519.5 601.6,517.0 608.7,519.5 616.8,519.0 629.5,520.8 643.5,515.2 657.4,507.6 672.7,509.4 679.0,506.8 685.4,509.4 693.5,516.2 700.6,517.0 707.0,515.7 714.6,513.7 720.9,515.7 728.5,518.8 734.9,519.5" fill="none" stroke="#9872a6" stroke-width="1.15" stroke-linejoin="round"/>
<line x1="608.5" y1="382" x2="608.5" y2="544" stroke="#9ea2aa" stroke-width="1" stroke-dasharray="3,4.7" stroke-dashoffset="5.2"/>
<line x1="0" y1="381.5" x2="1024" y2="381.5" stroke="#6a6d78" stroke-width="1.2"/>
<line x1="0" y1="473.5" x2="1024" y2="473.5" stroke="#6a6d78" stroke-width="1.2"/>
<line x1="984.5" y1="0" x2="984.5" y2="544" stroke="#787b86" stroke-width="1"/>
<line x1="984.5" y1="28" x2="988.5" y2="28" stroke="#5d606b" stroke-width="1"/>
<text x="990.8" y="31.2" font-size="9" fill="#5d606b" textLength="19.6" lengthAdjust="spacingAndGlyphs">31.00</text>
<line x1="984.5" y1="59" x2="988.5" y2="59" stroke="#5d606b" stroke-width="1"/>
<text x="990.8" y="62.2" font-size="9" fill="#5d606b" textLength="19.6" lengthAdjust="spacingAndGlyphs">30.00</text>
<line x1="984.5" y1="90" x2="988.5" y2="90" stroke="#5d606b" stroke-width="1"/>
<text x="990.8" y="93.2" font-size="9" fill="#5d606b" textLength="19.6" lengthAdjust="spacingAndGlyphs">29.00</text>
<line x1="984.5" y1="121" x2="988.5" y2="121" stroke="#5d606b" stroke-width="1"/>
<text x="990.8" y="124.2" font-size="9" fill="#5d606b" textLength="19.6" lengthAdjust="spacingAndGlyphs">28.00</text>
<line x1="984.5" y1="152" x2="988.5" y2="152" stroke="#5d606b" stroke-width="1"/>
<text x="990.8" y="155.2" font-size="9" fill="#5d606b" textLength="19.6" lengthAdjust="spacingAndGlyphs">27.00</text>
<line x1="984.5" y1="183" x2="988.5" y2="183" stroke="#5d606b" stroke-width="1"/>
<text x="990.8" y="186.2" font-size="9" fill="#5d606b" textLength="19.6" lengthAdjust="spacingAndGlyphs">26.00</text>
<line x1="984.5" y1="214" x2="988.5" y2="214" stroke="#5d606b" stroke-width="1"/>
<text x="990.8" y="217.2" font-size="9" fill="#5d606b" textLength="19.6" lengthAdjust="spacingAndGlyphs">25.00</text>
<line x1="984.5" y1="245" x2="988.5" y2="245" stroke="#5d606b" stroke-width="1"/>
<text x="990.8" y="248.2" font-size="9" fill="#5d606b" textLength="19.6" lengthAdjust="spacingAndGlyphs">24.00</text>
<line x1="984.5" y1="276" x2="988.5" y2="276" stroke="#5d606b" stroke-width="1"/>
<text x="990.8" y="279.2" font-size="9" fill="#5d606b" textLength="19.6" lengthAdjust="spacingAndGlyphs">23.00</text>
<line x1="984.5" y1="307" x2="988.5" y2="307" stroke="#5d606b" stroke-width="1"/>
<text x="990.8" y="310.2" font-size="9" fill="#5d606b" textLength="19.6" lengthAdjust="spacingAndGlyphs">22.00</text>
<line x1="984.5" y1="338" x2="988.5" y2="338" stroke="#5d606b" stroke-width="1"/>
<text x="990.8" y="341.2" font-size="9" fill="#5d606b" textLength="19.6" lengthAdjust="spacingAndGlyphs">21.00</text>
<line x1="984.5" y1="369" x2="988.5" y2="369" stroke="#5d606b" stroke-width="1"/>
<text x="990.8" y="372.2" font-size="9" fill="#5d606b" textLength="19.6" lengthAdjust="spacingAndGlyphs">20.00</text>
<line x1="984.5" y1="386.5" x2="988.5" y2="386.5" stroke="#5d606b" stroke-width="1"/>
<text x="990.8" y="389.7" font-size="9" fill="#5d606b" textLength="15.2" lengthAdjust="spacingAndGlyphs">2.00</text>
<line x1="984.5" y1="457.9" x2="988.5" y2="457.9" stroke="#5d606b" stroke-width="1"/>
<text x="990.8" y="461.09999999999997" font-size="9" fill="#5d606b" textLength="19.8" lengthAdjust="spacingAndGlyphs">−1.00</text>
<line x1="984.5" y1="493.3" x2="988.5" y2="493.3" stroke="#5d606b" stroke-width="1"/>
<text x="990.8" y="496.5" font-size="9" fill="#5d606b" textLength="19.6" lengthAdjust="spacingAndGlyphs">75.00</text>
<line x1="984.5" y1="540.5" x2="988.5" y2="540.5" stroke="#5d606b" stroke-width="1"/>
<text x="990.8" y="543.7" font-size="9" fill="#5d606b" textLength="19.6" lengthAdjust="spacingAndGlyphs">25.00</text>
<rect x="984.5" y="68" width="32.5" height="13" fill="#f00a0a"/>
<line x1="984.5" y1="74.5" x2="988.5" y2="74.5" stroke="#ffffff" stroke-width="1"/>
<text x="990.8" y="77.7" font-size="9" font-weight="bold" fill="#ffffff" textLength="19.6" lengthAdjust="spacingAndGlyphs">29.53</text>
<rect x="984.5" y="81" width="32.5" height="13" fill="#d9822b"/>
<line x1="984.5" y1="87.5" x2="988.5" y2="87.5" stroke="#ffffff" stroke-width="1"/>
<text x="990.8" y="90.7" font-size="9" font-weight="bold" fill="#ffffff" textLength="19.6" lengthAdjust="spacingAndGlyphs">29.47</text>
<rect x="984.5" y="94" width="32.5" height="12" fill="#2196f3"/>
<line x1="984.5" y1="100.0" x2="988.5" y2="100.0" stroke="#ffffff" stroke-width="1"/>
<text x="990.8" y="103.2" font-size="9" font-weight="bold" fill="#ffffff" textLength="19.6" lengthAdjust="spacingAndGlyphs">28.98</text>
<rect x="984.5" y="124" width="32.5" height="12" fill="#f00a0a"/>
<line x1="984.5" y1="130.0" x2="988.5" y2="130.0" stroke="#ffffff" stroke-width="1"/>
<text x="990.8" y="133.2" font-size="9" font-weight="bold" fill="#ffffff" textLength="19.6" lengthAdjust="spacingAndGlyphs">27.70</text>
<rect x="984.5" y="153" width="32.5" height="12" fill="#4a5059"/>
<line x1="984.5" y1="159.0" x2="988.5" y2="159.0" stroke="#ffffff" stroke-width="1"/>
<text x="990.8" y="162.2" font-size="9" font-weight="bold" fill="#ffffff" textLength="19.6" lengthAdjust="spacingAndGlyphs">26.78</text>
<rect x="970.4" y="153.3" width="14.6" height="12.1" fill="#4a5059"/>
<path d="M973.5,159.3 H981.5 M977.5,155.3 V163.3" stroke="#ffffff" stroke-width="1"/>
<rect x="984.5" y="187" width="32.5" height="13" fill="#ef5350"/>
<line x1="984.5" y1="193.5" x2="988.5" y2="193.5" stroke="#ffffff" stroke-width="1"/>
<text x="990.8" y="196.7" font-size="9" font-weight="bold" fill="#ffffff" textLength="19.6" lengthAdjust="spacingAndGlyphs">25.67</text>
<rect x="984.5" y="200" width="39.5" height="13" fill="#ef5350"/>
<line x1="984.5" y1="200.5" x2="1017" y2="200.5" stroke="#f7a8a6" stroke-width="0.8"/>
<text x="987.4" y="209.9" font-size="9" font-weight="bold" fill="#ffffff" textLength="33" lengthAdjust="spacingAndGlyphs">01:40:09</text>
<rect x="984.5" y="213" width="32.5" height="12" fill="#ef5350"/>
<line x1="984.5" y1="219.0" x2="988.5" y2="219.0" stroke="#ffffff" stroke-width="1"/>
<text x="990.8" y="222.2" font-size="9" font-weight="bold" fill="#ffffff" textLength="19.6" lengthAdjust="spacingAndGlyphs">25.45</text>
<rect x="984.5" y="225" width="32.5" height="13" fill="#f00a0a"/>
<line x1="984.5" y1="231.5" x2="988.5" y2="231.5" stroke="#ffffff" stroke-width="1"/>
<text x="990.8" y="234.7" font-size="9" font-weight="bold" fill="#ffffff" textLength="19.6" lengthAdjust="spacingAndGlyphs">24.62</text>
<rect x="984.5" y="238" width="32.5" height="12" fill="#d9822b"/>
<line x1="984.5" y1="244.0" x2="988.5" y2="244.0" stroke="#ffffff" stroke-width="1"/>
<text x="990.8" y="247.2" font-size="9" font-weight="bold" fill="#ffffff" textLength="19.6" lengthAdjust="spacingAndGlyphs">24.58</text>
<rect x="984.5" y="291" width="32.5" height="12" fill="#f00a0a"/>
<line x1="984.5" y1="297.0" x2="988.5" y2="297.0" stroke="#ffffff" stroke-width="1"/>
<text x="990.8" y="300.2" font-size="9" font-weight="bold" fill="#ffffff" textLength="19.6" lengthAdjust="spacingAndGlyphs">22.34</text>
<rect x="984.5" y="326" width="32.5" height="12" fill="#d9822b"/>
<line x1="984.5" y1="332.0" x2="988.5" y2="332.0" stroke="#ffffff" stroke-width="1"/>
<text x="990.8" y="335.2" font-size="9" font-weight="bold" fill="#ffffff" textLength="19.6" lengthAdjust="spacingAndGlyphs">21.22</text>
<rect x="984.5" y="403" width="28.5" height="13" fill="#ffb300"/>
<line x1="984.5" y1="409.5" x2="988.5" y2="409.5" stroke="#131722" stroke-width="1"/>
<text x="990.8" y="412.7" font-size="9" font-weight="bold" fill="#131722" textLength="15.2" lengthAdjust="spacingAndGlyphs">0.10</text>
<rect x="984.5" y="417" width="28.5" height="12" fill="#2962ff"/>
<line x1="984.5" y1="423.0" x2="988.5" y2="423.0" stroke="#ffffff" stroke-width="1"/>
<text x="990.8" y="426.2" font-size="9" font-weight="bold" fill="#ffffff" textLength="15.2" lengthAdjust="spacingAndGlyphs">0.07</text>
<rect x="984.5" y="430" width="32.5" height="12" fill="#ef5350"/>
<line x1="984.5" y1="436.0" x2="988.5" y2="436.0" stroke="#ffffff" stroke-width="1"/>
<text x="990.8" y="439.2" font-size="9" font-weight="bold" fill="#ffffff" textLength="19.8" lengthAdjust="spacingAndGlyphs">−0.04</text>
<rect x="984.5" y="513" width="32.5" height="12" fill="#7b1fa2"/>
<line x1="984.5" y1="519.0" x2="988.5" y2="519.0" stroke="#ffffff" stroke-width="1"/>
<text x="990.8" y="522.2" font-size="9" font-weight="bold" fill="#ffffff" textLength="19.6" lengthAdjust="spacingAndGlyphs">47.94</text>
<text x="5.6" y="12.9" font-size="8.8" fill="#d9807e" textLength="29.0" lengthAdjust="spacingAndGlyphs"><tspan fill="#6a6d78">H</tspan>25.60</text>
<text x="38.8" y="12.9" font-size="8.8" fill="#d9807e" textLength="26.5" lengthAdjust="spacingAndGlyphs"><tspan fill="#6a6d78">L</tspan>25.25</text>
<text x="70.3" y="12.9" font-size="8.8" fill="#d9807e" textLength="28.3" lengthAdjust="spacingAndGlyphs"><tspan fill="#6a6d78">C</tspan>25.35</text>
<text x="102.8" y="12.9" font-size="8.8" fill="#d9807e" textLength="22.3" lengthAdjust="spacingAndGlyphs"><tspan fill="#6a6d78"></tspan>−0.20</text>
<text x="127.6" y="12.9" font-size="8.8" fill="#d9807e" textLength="34.0" lengthAdjust="spacingAndGlyphs"><tspan fill="#6a6d78"></tspan>(−0.78%)</text>
<rect x="949.5" y="1.5" width="13" height="14" rx="2" fill="#ffffff" stroke="#e0e3eb" stroke-width="1"/>
<path d="M956,4.5 V12 M953.2,9.3 L956,12 L958.8,9.3" fill="none" stroke="#131722" stroke-width="1"/>
<rect x="966.5" y="1.5" width="13.5" height="14" rx="2" fill="#ffffff" stroke="#e0e3eb" stroke-width="1"/>
<path d="M969.5,6.5 V4.5 H977 V6.5 M969.5,10.5 V12.5 H977 V10.5" fill="none" stroke="#131722" stroke-width="1"/>
<rect x="994.3" y="2" width="21" height="10.5" rx="2" fill="#eef0f5"/>
<text x="999" y="10.6" font-size="8.5" fill="#50535e" textLength="15" lengthAdjust="spacingAndGlyphs">USD</text>
</svg></body></html>
